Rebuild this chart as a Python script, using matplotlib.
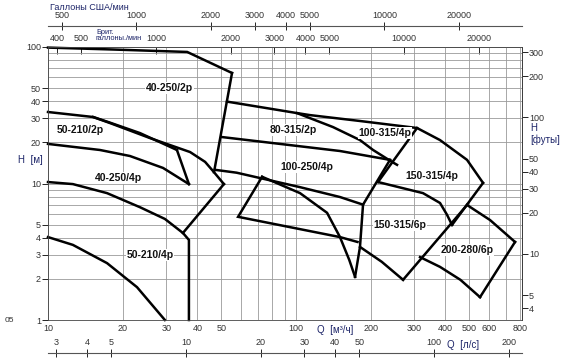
import matplotlib
matplotlib.use('Agg')
import matplotlib.pyplot as plt
from matplotlib.ticker import FixedLocator, NullLocator, FixedFormatter, NullFormatter

plt.rcParams['font.family'] = ['Liberation Sans', 'DejaVu Sans']

# ---------------- data (Q in m3/h, H in m) ----------------
q_4025_2p_top = [10, 17.8, 36.4, 55.2]
h_4025_2p_top = [99, 96, 92, 64.5]
q_4025_2p_edge = [55.2, 46.7]
h_4025_2p_edge = [64.5, 12.1]

q_5021_2p_top = [10, 15.2, 17.5, 23.5, 33.1]
h_5021_2p_top = [33.4, 30.7, 28.2, 23.4, 17.6]
q_5021_2p_edge = [33.1, 37.0]
h_5021_2p_edge = [17.6, 9.9]
q_5021_2p_bot = [10, 16.2, 21.4, 29.1, 37.0]
h_5021_2p_bot = [19.5, 17.6, 15.9, 13.0, 9.9]

q_4025_4p_top = [15.2, 17.8, 25.8, 37.4, 43.0, 46.7, 51.2]
h_4025_4p_top = [30.7, 27.7, 21.5, 17.0, 14.4, 12.1, 9.9]
q_4025_4p_edge = [51.2, 35.0]
h_4025_4p_edge = [9.9, 4.34]

q_5021_4p_top = [10, 12.6, 17.3, 23.5, 29.6, 35.0, 37.0, 37.0]
h_5021_4p_top = [10.25, 9.9, 8.5, 6.7, 5.5, 4.34, 3.86, 1.0]
q_5021_4p_bot = [10, 12.6, 17.3, 22.85, 29.6]
h_5021_4p_bot = [4.05, 3.55, 2.61, 1.74, 1.0]

q_8031_2p_top = [52.7, 100.9, 141.0, 181.1, 204.5, 243.8, 255.5]
h_8031_2p_top = [39.8, 32.8, 25.9, 20.8, 17.6, 14.4, 13.7]
q_upper = [100.9, 113.9, 181.1, 307.6, 380.7, 489.2, 567.6]
h_upper = [32.8, 31.7, 28.7, 25.5, 20.8, 14.9, 10.1]
q_10031_4p_edge = [307.6, 214.1]
h_10031_4p_edge = [25.5, 10.25]

q_10025_4p_top = [50.2, 150.4, 239.3]
h_10025_4p_top = [21.9, 17.3, 14.9]
q_10025_4p_edge = [239.3, 186.3, 181.1, 173.0]
h_10025_4p_edge = [14.9, 7.0, 3.43, 2.07]
q_10025_4p_bot = [47.1, 57.6, 103.8, 150.4, 186.3]
h_10025_4p_bot = [12.6, 12.0, 9.4, 7.96, 7.0]

q_mid_box = [73.0, 58.4, 150.4, 177.0]
h_mid_box = [11.2, 5.7, 4.05, 3.73]
q_mid_curve = [73.0, 103.8, 133.4, 150.4, 164.0, 173.0]
h_mid_curve = [11.2, 8.5, 6.1, 4.05, 2.75, 2.07]

q_15031_4p_edge = [567.6, 425.6]
h_15031_4p_edge = [10.1, 4.97]
q_15031_4p_bot = [214.1, 325.1, 380.7, 406.3, 425.6]
h_15031_4p_bot = [10.25, 8.5, 7.2, 5.9, 4.97]

q_15031_6p_bot = [181.1, 221.6, 270.2]
h_15031_6p_bot = [3.43, 2.67, 1.97]
q_6p_divider = [270.2, 489.2]
h_6p_divider = [1.97, 6.96]

q_20028_6p_top = [489.2, 605.7, 763.9]
h_20028_6p_top = [6.96, 5.4, 3.73]
q_20028_6p_edge = [763.9, 552.0]
h_20028_6p_edge = [3.73, 1.47]
q_20028_6p_bot = [316.2, 380.7, 460.0, 552.0]
h_20028_6p_bot = [2.89, 2.45, 1.97, 1.47]

pump_names = ['40-250/2p', '50-210/2p', '80-315/2p', '100-315/4p', '100-250/4p',
              '150-315/4p', '40-250/4p', '150-315/6p', '200-280/6p', '50-210/4p']
name_q = [31.0, 13.5, 97.2, 228.5, 110.7, 353.5, 19.3, 262.7, 489.0, 25.8]
name_h = [50.1, 24.7, 24.7, 23.4, 13.2, 11.35, 10.97, 4.97, 3.26, 2.99]

q_ticks = [10, 20, 30, 40, 50, 100, 200, 300, 400, 500, 600, 800]
h_ticks = [1, 2, 3, 4, 5, 10, 20, 30, 40, 50, 100]
ft_ticks = [4, 5, 10, 20, 30, 40, 50, 100, 200, 300]
us_ticks = [500, 1000, 2000, 3000, 4000, 5000, 10000, 20000]
brit_ticks = [400, 500, 1000, 2000, 3000, 4000, 5000, 10000, 20000]
ls_ticks = [3, 4, 5, 10, 20, 30, 40, 50, 100, 200]

FT = 3.281
US = 44.03
BRIT = 36.66
LS = 3.6

navy = '#1c2468'
tick_col = '#333333'

fig = plt.figure(figsize=(5.63, 3.62), dpi=100)
ax = fig.add_axes([48 / 563, 42 / 362, 474 / 563, 273 / 362])
ax.set_xscale('log')
ax.set_yscale('log')
ax.set_xlim(10, 815)
ax.set_ylim(1, 100)

ax.xaxis.set_major_locator(FixedLocator(q_ticks))
ax.xaxis.set_major_formatter(FixedFormatter([str(v) for v in q_ticks]))
ax.xaxis.set_minor_locator(FixedLocator([60, 70, 80, 90, 700]))
ax.xaxis.set_minor_formatter(NullFormatter())
ax.yaxis.set_major_locator(FixedLocator(h_ticks))
ax.yaxis.set_major_formatter(FixedFormatter([str(v) for v in h_ticks]))
ax.yaxis.set_minor_locator(FixedLocator([6, 7, 8, 9, 60, 70, 80, 90]))
ax.yaxis.set_minor_formatter(NullFormatter())
ax.grid(True, which='both', color='#9a9a9a', lw=0.6)
ax.tick_params(axis='x', which='both', length=0, labelsize=6.5, labelcolor=tick_col, pad=3)
ax.tick_params(axis='y', which='major', length=4, width=0.6, labelsize=6.5,
               labelcolor=tick_col, pad=1)
ax.tick_params(axis='y', which='minor', length=0)
for s in ax.spines.values():
    s.set_linewidth(0.6)
    s.set_color('#444444')

lines = [
    (q_4025_2p_top, h_4025_2p_top), (q_4025_2p_edge, h_4025_2p_edge),
    (q_5021_2p_top, h_5021_2p_top), (q_5021_2p_edge, h_5021_2p_edge),
    (q_5021_2p_bot, h_5021_2p_bot),
    (q_4025_4p_top, h_4025_4p_top), (q_4025_4p_edge, h_4025_4p_edge),
    (q_5021_4p_top, h_5021_4p_top), (q_5021_4p_bot, h_5021_4p_bot),
    (q_8031_2p_top, h_8031_2p_top), (q_upper, h_upper),
    (q_10031_4p_edge, h_10031_4p_edge),
    (q_10025_4p_top, h_10025_4p_top), (q_10025_4p_edge, h_10025_4p_edge),
    (q_10025_4p_bot, h_10025_4p_bot),
    (q_mid_box, h_mid_box), (q_mid_curve, h_mid_curve),
    (q_15031_4p_edge, h_15031_4p_edge), (q_15031_4p_bot, h_15031_4p_bot),
    (q_15031_6p_bot, h_15031_6p_bot), (q_6p_divider, h_6p_divider),
    (q_20028_6p_top, h_20028_6p_top), (q_20028_6p_edge, h_20028_6p_edge),
    (q_20028_6p_bot, h_20028_6p_bot),
]
for q, h in lines:
    ax.plot(q, h, color='black', lw=1.8, solid_joinstyle='miter', clip_on=False)

for name, q, h in zip(pump_names, name_q, name_h):
    ax.text(q, h, name, ha='center', va='center', fontsize=7.5, fontweight='bold',
            color='#111111', bbox=dict(fc='white', ec='none', pad=0.6))

# right axis: feet
ax_ft = ax.secondary_yaxis('right', functions=(lambda m: m * FT, lambda f: f / FT))
ax_ft.yaxis.set_major_locator(FixedLocator(ft_ticks))
ax_ft.yaxis.set_major_formatter(FixedFormatter([str(v) for v in ft_ticks]))
ax_ft.yaxis.set_minor_locator(NullLocator())
ax_ft.tick_params(length=4, width=0.6, labelsize=6.5, labelcolor=tick_col, pad=1)
ax_ft.spines['right'].set_linewidth(0.6)

# top axis: British gallons
ax_br = ax.secondary_xaxis('top', functions=(lambda q: q * BRIT, lambda g: g / BRIT))
ax_br.xaxis.set_major_locator(FixedLocator(brit_ticks))
ax_br.xaxis.set_major_formatter(FixedFormatter([str(v) for v in brit_ticks]))
ax_br.xaxis.set_minor_locator(NullLocator())
ax_br.tick_params(direction='in', length=5, width=0.6, labelsize=6.5, labelcolor=tick_col, pad=3)
ax_br.spines['top'].set_linewidth(0.6)

# upper axis: US gallons
ax_us = ax.secondary_xaxis(1.078, functions=(lambda q: q * US, lambda g: g / US))
ax_us.xaxis.set_major_locator(FixedLocator(us_ticks))
ax_us.xaxis.set_major_formatter(FixedFormatter([str(v) for v in us_ticks]))
ax_us.xaxis.set_minor_locator(NullLocator())
ax_us.tick_params(direction='inout', length=6, width=0.6, labelsize=6.5, labelcolor=tick_col, pad=1)
ax_us.spines['top'].set_linewidth(0.8)
ax_us.spines['top'].set_color('#555555')

# lower axis: l/s
ax_ls = ax.secondary_xaxis(-0.121, functions=(lambda q: q / LS, lambda l: l * LS))
ax_ls.set_alignment('top')
ax_ls.xaxis.set_major_locator(FixedLocator(ls_ticks))
ax_ls.xaxis.set_major_formatter(FixedFormatter([str(v) for v in ls_ticks]))
ax_ls.xaxis.set_minor_locator(NullLocator())
ax_ls.tick_params(direction='inout', length=6, width=0.6, labelsize=6.5, labelcolor=tick_col, pad=1)
ax_ls.spines['top'].set_linewidth(0.8)
ax_ls.spines['top'].set_color('#555555')

fig.text(50 / 563, 1 - 7 / 362, 'Галлоны США/мин', fontsize=6.5, color=navy, ha='left', va='center')
fig.text(96 / 563, 1 - 35.5 / 362, 'Брит.\nгаллоны./мин', fontsize=5.3, color=navy,
         ha='left', va='center', linespacing=0.95)
fig.text(18 / 563, 1 - 160 / 362, 'H  [м]', fontsize=7, color=navy, ha='left', va='center')
fig.text(530 / 563, 1 - 134 / 362, 'H\n[футы]', fontsize=7, color=navy, ha='left',
         va='center', linespacing=1.1)
fig.text(317 / 563, 1 - 330 / 362, 'Q  [м³/ч]', fontsize=7, color=navy, ha='left', va='center')
fig.text(447 / 563, 1 - 345 / 362, 'Q  [л/с]', fontsize=7, color=navy, ha='left', va='center')
fig.text(5 / 563, 1 - 320 / 362, '05', fontsize=6, color='#333333', ha='left', va='center')

fig.savefig('out.png', dpi=100)
